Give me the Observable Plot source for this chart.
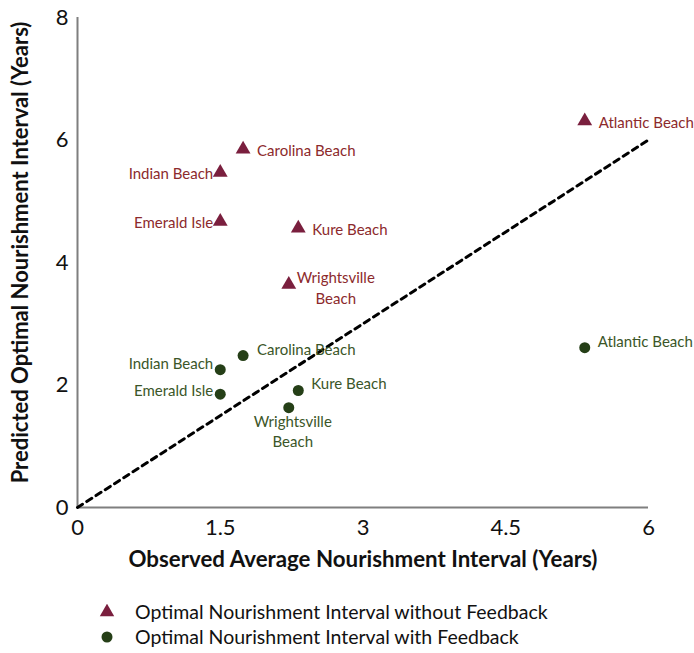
<!DOCTYPE html>
<html>
<head>
<meta charset="utf-8">
<script src="https://cdn.jsdelivr.net/npm/d3@7"></script>
<script src="https://cdn.jsdelivr.net/npm/@observablehq/plot@0.6"></script>
<style>
  body { margin: 0; background: #fff; font-family: Lato, "Open Sans", sans-serif; }
  #chart { width: 694px; }
  .legend { margin-left: 99px; margin-top: 14px; font-size: 19.5px; color: #111; }
  .legend div { display: flex; align-items: center; height: 25px; }
  .legend svg { margin-right: 20px; }
</style>
</head>
<body>
<div id="chart"></div>
<script>
// Data
const beaches = ["Carolina Beach", "Indian Beach", "Emerald Isle", "Kure Beach", "Wrightsville\nBeach", "Atlantic Beach"];
const observed = [1.74, 1.5, 1.5, 2.32, 2.22, 5.33];
const withoutFeedback = [5.85, 5.47, 4.67, 4.56, 3.64, 6.31];
const withFeedback = [2.48, 2.25, 1.85, 1.91, 1.63, 2.61];
const xTicks = [0, 1.5, 3, 4.5, 6];
const yTicks = [0, 2, 4, 6, 8];
const refLine = [0, 6];
const seriesNames = ["Optimal Nourishment Interval without Feedback", "Optimal Nourishment Interval with Feedback"];

// Styles / label placement
const maroon = "#7a1f3e", maroonText = "#8c2a2c";
const green = "#253f17", greenText = "#3b5628";
const triLabel = [
  {dx: 14, dy: 0, a: "start"}, {dx: -7, dy: 0, a: "end"}, {dx: -7, dy: 0, a: "end"},
  {dx: 14, dy: 0, a: "start"}, {dx: 47, dy: 2, a: "middle"}, {dx: 14, dy: 0, a: "start"}
];
const dotLabel = [
  {dx: 14, dy: -7, a: "start"}, {dx: -7, dy: -7, a: "end"}, {dx: -7, dy: -5, a: "end"},
  {dx: 13, dy: -8, a: "start"}, {dx: 4, dy: 23, a: "middle"}, {dx: 13, dy: -7, a: "start"}
];

const tri = beaches.map((b, i) => ({name: b, x: observed[i], y: withoutFeedback[i]}));
const dots = beaches.map((b, i) => ({name: b, x: observed[i], y: withFeedback[i]}));
const diag = refLine.map(v => ({x: v, y: v}));

const labelMarks = [];
tri.forEach((d, i) => labelMarks.push(Plot.text([d], {x: "x", y: "y", text: "name", dx: triLabel[i].dx, dy: triLabel[i].dy, textAnchor: triLabel[i].a, fill: maroonText, fontSize: 15, lineHeight: 1.4})));
dots.forEach((d, i) => labelMarks.push(Plot.text([d], {x: "x", y: "y", text: "name", dx: dotLabel[i].dx, dy: dotLabel[i].dy, textAnchor: dotLabel[i].a, fill: greenText, fontSize: 15, lineHeight: 1.35})));

const chart = Plot.plot({
  width: 694,
  height: 585,
  marginLeft: 77,
  marginRight: 46,
  marginTop: 17,
  marginBottom: 78,
  style: {fontFamily: "Lato, 'Open Sans', sans-serif", background: "#fff", overflow: "visible"},
  x: {domain: [0, 6], ticks: xTicks, tickFormat: d => String(d), label: null},
  y: {domain: [0, 8], ticks: yTicks, tickFormat: d => String(d), label: null},
  marks: [
    Plot.axisX({ticks: xTicks, tickSize: 0, tickPadding: 12, fontSize: 22, fill: "#111", tickFormat: d => String(d), label: null}),
    Plot.axisY({ticks: yTicks, tickSize: 0, tickPadding: 9, fontSize: 22, fill: "#111", tickFormat: d => String(d), label: null}),
    Plot.ruleX([0], {stroke: "#7f7f7f", strokeWidth: 2}),
    Plot.ruleY([0], {stroke: "#7f7f7f", strokeWidth: 2}),
    Plot.line(diag, {x: "x", y: "y", stroke: "#000", strokeWidth: 3, strokeDasharray: "6,5"}),
    Plot.dot(tri, {x: "x", y: "y", symbol: "triangle", r: 5.5, fill: maroon, stroke: "none"}),
    Plot.dot(dots, {x: "x", y: "y", symbol: "circle", r: 5.5, fill: green, stroke: "none"}),
    ...labelMarks,
    Plot.text(["Observed Average Nourishment Interval (Years)"], {frameAnchor: "bottom", dy: 59, fontSize: 22.3, fontWeight: "bold", fill: "#111"}),
    Plot.text(["Predicted Optimal Nourishment Interval (Years)"], {frameAnchor: "left", textAnchor: "middle", dx: -57, dy: -10, rotate: -90, fontSize: 22, fontWeight: "bold", fill: "#111"})
  ]
});
document.getElementById("chart").appendChild(chart);

// Legend
const legend = document.createElement("div");
legend.className = "legend";
legend.innerHTML = `
<div><svg width="16" height="16" viewBox="-8 -8 16 16"><path d="${d3.symbol(d3.symbolTriangle, 90)()}" fill="${maroon}"/></svg><span>${seriesNames[0]}</span></div>
<div><svg width="16" height="16" viewBox="-8 -8 16 16"><circle r="5.5" fill="${green}"/></svg><span>${seriesNames[1]}</span></div>`;
document.body.appendChild(legend);
</script>
</body>
</html>
